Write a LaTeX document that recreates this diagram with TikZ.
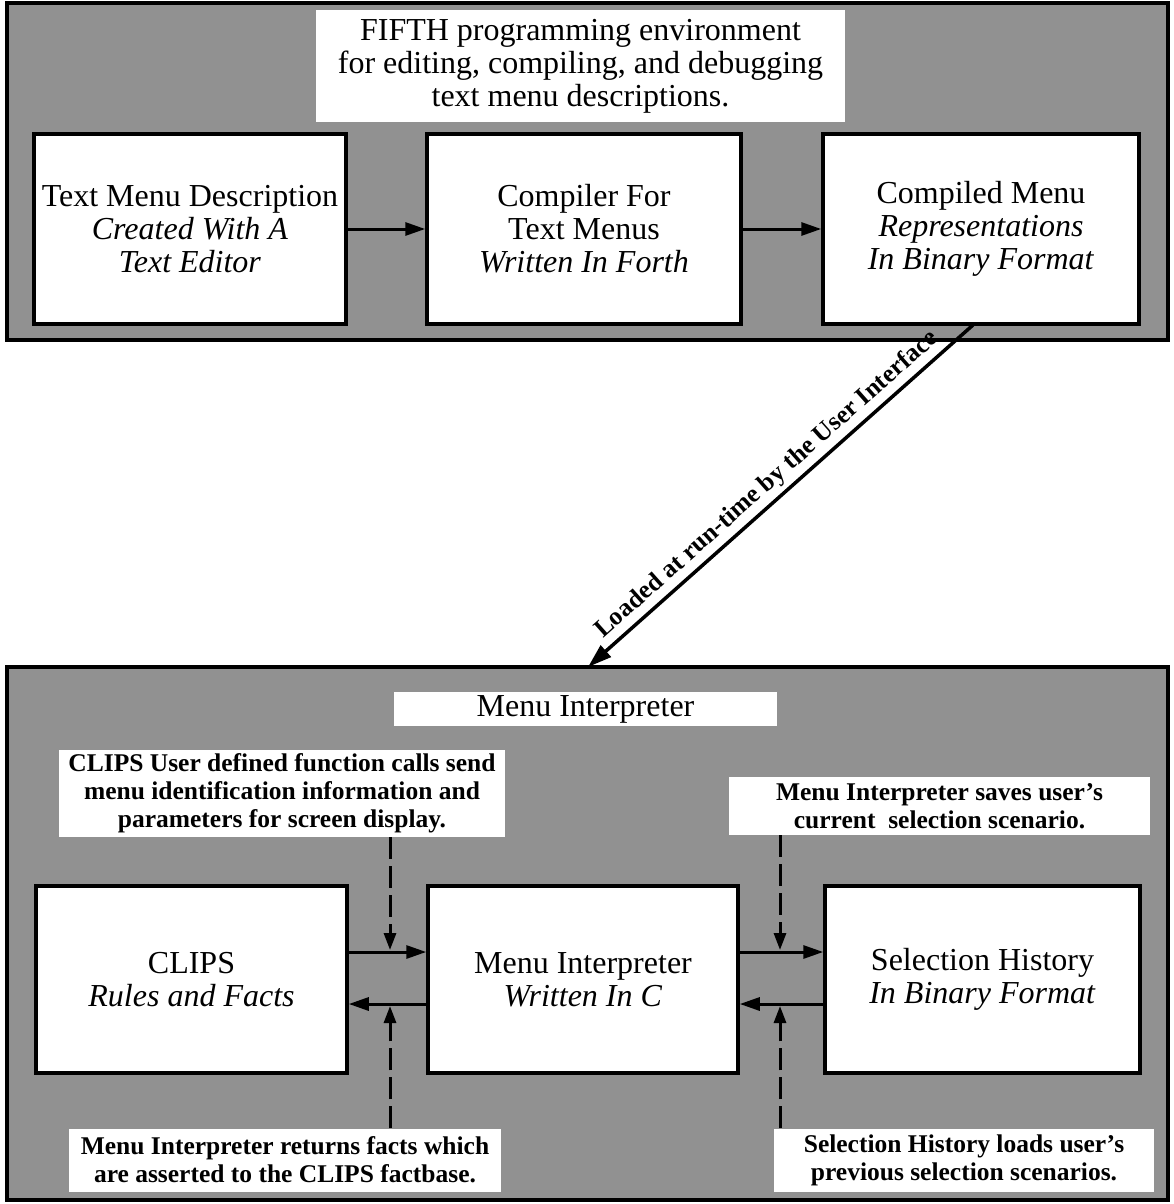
\documentclass[tikz,border=0pt]{standalone}
\usepackage{fontspec}
\setmainfont{Liberation Serif}
\usetikzlibrary{arrows.meta}
\begin{document}
\begin{tikzpicture}[x=1pt,y=-1pt,
  frame/.style={draw=black, line width=4.5pt, fill=black!43, inner sep=0pt},
  stage/.style={draw=black, line width=3.5pt, fill=white, align=center,
    inner sep=0pt, font=\fontsize{32}{33}\selectfont},
  banner/.style={fill=white, align=center, inner sep=0pt,
    font=\fontsize{32}{33}\selectfont},
  note/.style={fill=white, align=center, inner sep=0pt,
    font=\bfseries\fontsize{25.5}{28}\selectfont},
  flow/.style={line width=3pt, -{Triangle[length=20pt,width=13pt]}},
  probe/.style={line width=3pt, dash pattern=on 22pt off 7pt,
    -{Triangle[length=17pt,width=12pt]}},
  load/.style={line width=3.5pt, -{Triangle[length=24pt,width=15pt]}}
]
\useasboundingbox (0,0) rectangle (1174,1204);

% ---------- FIFTH programming environment ----------
\node[frame, minimum width=1161pt, minimum height=337pt] (fifth) at (587.5,171.5) {};
\node[banner, minimum width=529pt, minimum height=112pt] (fifthtitle) at (580.5,66)
  {FIFTH programming environment\\for editing, compiling, and debugging\\text menu descriptions.};

\node[stage, minimum width=312pt, minimum height=190pt] (txt) at (190,229)
  {Text Menu Description\\\textit{Created With A}\\\textit{Text Editor}};
\node[stage, minimum width=314pt, minimum height=190pt] (comp) at (584,229)
  {Compiler For\\Text Menus\\\textit{Written In Forth}};
\node[stage, minimum width=316pt, minimum height=190pt] (bin) at (981,229)
  {Compiled Menu\\\textit{Representations}\\\textit{In Binary Format}};

\draw[flow] (txt.east) -- (comp.west);
\draw[flow] (comp.east) -- (bin.west);

% ---------- Menu Interpreter run-time ----------
\node[frame, minimum width=1161pt, minimum height=533pt] (runtime) at (587.5,933.5) {};
\node[banner, minimum width=383pt, minimum height=34pt, text height=22pt, text depth=7pt]
  (mititle) at (585.5,709) {Menu Interpreter};

\node[note, minimum width=446pt, minimum height=87pt] (callsnote) at (282,793.5)
  {CLIPS User defined function calls send\\menu identification information and\\parameters for screen display.};
\node[note, minimum width=421pt, minimum height=58pt] (savesnote) at (939.5,806)
  {Menu Interpreter saves user's\\current~~selection scenario.};
\node[note, minimum width=432pt, minimum height=63pt] (factsnote) at (285,1160)
  {Menu Interpreter returns facts which\\are asserted to the CLIPS factbase.};
\node[note, minimum width=380pt, minimum height=63pt] (loadsnote) at (964,1160)
  {Selection History loads user's\\previous selection scenarios.};

\node[stage, minimum width=311pt, minimum height=187pt] (clips) at (191.5,979.5)
  {CLIPS\\\textit{Rules and Facts}};
\node[stage, minimum width=310pt, minimum height=187pt] (mi) at (583,979.5)
  {Menu Interpreter\\\textit{Written In C}};
\node[stage, minimum width=315pt, minimum height=187pt] (hist) at (982.5,979.5)
  {Selection History\\\textit{In Binary Format}};

% levels of the two-way links and the dashed call lines
\coordinate (upper) at (0,952);
\coordinate (lower) at (0,1004);
\coordinate (dl) at (390,0);
\coordinate (dr) at (780,0);

\draw[flow] (clips.east |- upper) -- (mi.west |- upper);
\draw[flow] (mi.west |- lower) -- (clips.east |- lower);
\draw[flow] (mi.east |- upper) -- (hist.west |- upper);
\draw[flow] (hist.west |- lower) -- (mi.east |- lower);

\draw[probe, shorten >=2pt] (callsnote.south -| dl) -- (dl |- upper);
\draw[probe, shorten >=2pt] (factsnote.north -| dl) -- (dl |- lower);
\draw[probe, shorten >=2pt] (savesnote.south -| dr) -- (dr |- upper);
\draw[probe, shorten >=2pt] (loadsnote.north -| dr) -- (dr |- lower);

% ---------- loading link ----------
\coordinate (binfoot) at (973,325);
\coordinate (runtop) at (588,667);
\draw[load] (binfoot) -- node[sloped, above, pos=0.505, inner sep=4pt,
    font=\bfseries\fontsize{25.5}{28}\selectfont]
  {Loaded at run-time by the User Interface} (runtop);
\end{tikzpicture}
\end{document}
